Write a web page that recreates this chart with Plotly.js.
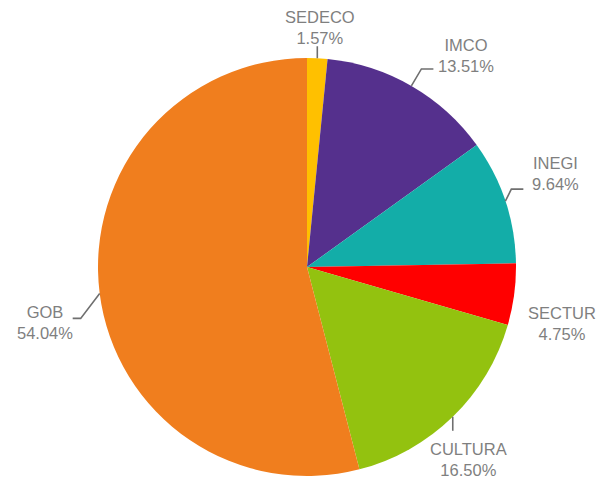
<!DOCTYPE html>
<html><head><meta charset="utf-8">
<script src="https://cdn.plot.ly/plotly-3.0.1.min.js"></script>
<style>html,body{margin:0;padding:0;background:#fff}#chart{width:614px;height:480px}</style>
</head><body><div id="chart"></div>
<script>
// ---- data ----
const labels = ["SEDECO", "IMCO", "INEGI", "SECTUR", "CULTURA", "GOB"];
const values = [1.57, 13.51, 9.64, 4.75, 16.50, 54.04];
const colors = ["#FFC000", "#55308D", "#13ADA8", "#FF0000", "#93C20F", "#F07E1E"];

// ---- layout helpers (pixels) ----
const W = 614, H = 480;
const M = {l: 97, r: 97, t: 58, b: 4};
const pw = W - M.l - M.r, ph = H - M.t - M.b;
const cx = M.l + pw / 2, cy = M.t + ph / 2, R = Math.min(pw, ph) / 2;
const px2x = p => (p - M.l) / pw;
const py2y = p => 1 - (p - M.t) / ph;

// label text centers and leader elbows (pixel offsets from slice edge point)
const labelPos = [[320, 27], [466, 55], [555, 173], [562, 323], [468, 459], [45, 322]];
const elbows = [
  [[0, -12]],
  [[10, -17], [22, -17]],
  [[6, -12], [18, -12]],
  [],
  [[0, 14]],
  [[-19, 25], [-27, 25]]
];

const total = values.reduce((a, b) => a + b, 0);
let cum = 0;
const annotations = [], shapes = [];
values.forEach((v, i) => {
  const mid = (cum + v / 2) / total * 2 * Math.PI;
  cum += v;
  const ex = cx + R * Math.sin(mid), ey = cy - R * Math.cos(mid);
  const pct = v.toFixed(2) + "%";
  annotations.push({
    xref: "paper", yref: "paper",
    x: px2x(labelPos[i][0]), y: py2y(labelPos[i][1]),
    xanchor: "center", yanchor: "middle",
    text: labels[i] + "<br>" + pct,
    showarrow: false, align: "center",
    font: {family: "Liberation Sans, Arial, sans-serif", size: 16.5, color: "#7f7f7f"}
  });
  if (elbows[i].length) {
    let path = "M " + px2x(ex) + "," + py2y(ey);
    elbows[i].forEach(o => { path += " L " + px2x(ex + o[0]) + "," + py2y(ey + o[1]); });
    shapes.push({type: "path", xref: "paper", yref: "paper", path: path,
      line: {color: "#6f6f6f", width: 1.6}});
  }
});

const trace = {
  type: "pie",
  labels: labels,
  values: values,
  sort: false,
  direction: "clockwise",
  rotation: 0,
  marker: {colors: colors, line: {width: 0}},
  textinfo: "none",
  hoverinfo: "label+percent",
  showlegend: false
};
const layout = {
  width: W, height: H,
  margin: M,
  paper_bgcolor: "#ffffff",
  showlegend: false,
  annotations: annotations,
  shapes: shapes
};
Plotly.newPlot("chart", [trace], layout, {displayModeBar: false, staticPlot: true});
</script></body></html>
